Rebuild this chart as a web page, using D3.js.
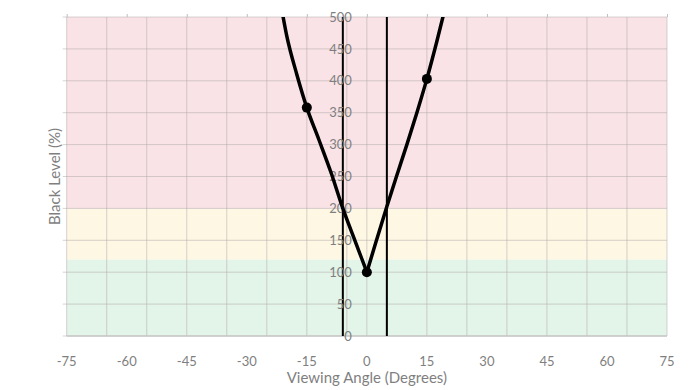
<!DOCTYPE html>
<html>
<head>
<meta charset="utf-8">
<script src="https://cdn.jsdelivr.net/npm/d3@7"></script>
<style>
  body { margin: 0; background: #fff; }
  text { font-family: Lato, "Open Sans", sans-serif; fill: #7f7f7f; }
</style>
</head>
<body>
<div id="chart"></div>
<script>
var leftAngles = [-21.5, -20, -17.5, -15, -12, -9, -6, -3, 0];
var leftValues = [520, 470, 410, 358, 308, 257, 200, 150, 100];
var rightAngles = [0, 2.5, 5, 7.5, 10, 12.5, 15, 17.5, 20];
var rightValues = [100, 152, 203, 252, 300, 350, 403, 462, 525];

// marked points
var markAngles = [-15, 0, 15];
var markValues = [358, 100, 403];

// angles where the curve crosses 200 %
var limitAngles = [-6, 5];

// coloured bands [from, to]
var bandFrom = [0, 120, 200];
var bandTo = [120, 200, 500];
var bandColors = ["#e3f4e9", "#fef7e4", "#f9e3e6"];

var xTicks = [-75, -60, -45, -30, -15, 0, 15, 30, 45, 60, 75];
var xGrid = d3.range(-75, 76, 10);
var yTicks = d3.range(0, 501, 50);

var width = 693, height = 390;
var margin = {top: 17, right: 26, bottom: 54, left: 66.7};

var svg = d3.select("#chart")
    .append("svg")
    .attr("width", width)
    .attr("height", height);

var x = d3.scaleLinear()
    .domain([-75, 75])
    .range([margin.left, width - margin.right]);

var y = d3.scaleLinear()
    .domain([0, 500])
    .range([height - margin.bottom, margin.top]);

// bands
svg.selectAll("rect.band")
    .data(bandFrom)
    .enter()
    .append("rect")
    .attr("class", "band")
    .attr("x", x(-75))
    .attr("width", x(75) - x(-75))
    .attr("y", (d, i) => y(bandTo[i]))
    .attr("height", (d, i) => y(d) - y(bandTo[i]))
    .style("fill", (d, i) => bandColors[i]);

// grid
svg.selectAll("line.vgrid")
    .data(xGrid.concat([0]))
    .enter()
    .append("line")
    .attr("class", "vgrid")
    .attr("x1", d => x(d)).attr("x2", d => x(d))
    .attr("y1", y(0)).attr("y2", y(500))
    .style("stroke", "#b0a8a8").style("stroke-opacity", 0.5).style("stroke-width", 1);

svg.selectAll("line.hgrid")
    .data(yTicks)
    .enter()
    .append("line")
    .attr("class", "hgrid")
    .attr("x1", x(-75) - 4).attr("x2", x(75))
    .attr("y1", d => y(d)).attr("y2", d => y(d))
    .style("stroke", "#b0a8a8").style("stroke-opacity", 0.5).style("stroke-width", 1);

// top axis with tick marks pointing up
var topAxis = svg.append("g")
    .attr("transform", "translate(0," + y(500) + ")")
    .call(d3.axisTop(x).tickValues(xTicks).tickSize(3).tickFormat(""));
topAxis.select(".domain").remove();
topAxis.selectAll("line").style("stroke", "#bfbfbf");

// bottom line
svg.append("line")
    .attr("x1", x(-75)).attr("x2", x(75))
    .attr("y1", y(0)).attr("y2", y(0))
    .style("stroke", "#c8c8c8").style("stroke-width", 1.5);

// x labels
svg.selectAll("text.xl")
    .data(xTicks)
    .enter()
    .append("text")
    .attr("class", "xl")
    .attr("x", d => x(d))
    .attr("y", y(0) + 25)
    .attr("text-anchor", "middle")
    .attr("dominant-baseline", "central")
    .style("font-size", "13px")
    .text(d => d);

// limit lines
svg.selectAll("line.limit")
    .data(limitAngles)
    .enter()
    .append("line")
    .attr("class", "limit")
    .attr("x1", d => x(d)).attr("x2", d => x(d))
    .attr("y1", y(0)).attr("y2", y(500))
    .style("stroke", "#000").style("stroke-width", 2);

// y labels at x = 0
var yAxis = svg.append("g")
    .attr("transform", "translate(" + x(0) + ",0)")
    .call(d3.axisLeft(y).tickValues(yTicks).tickSize(0).tickPadding(15));
yAxis.select(".domain").remove();
yAxis.selectAll("text")
    .style("font-family", "Lato, 'Open Sans', sans-serif")
    .style("font-size", "13px")
    .style("fill", "#7f7f7f");

// curve
svg.append("clipPath").attr("id", "plot")
    .append("rect")
    .attr("x", x(-75)).attr("y", y(500))
    .attr("width", x(75) - x(-75)).attr("height", y(0) - y(500));

var line = d3.line()
    .x(d => x(d[0]))
    .y(d => y(d[1]))
    .curve(d3.curveMonotoneX);

[[leftAngles, leftValues], [rightAngles, rightValues]].forEach(function(s) {
    svg.append("path")
        .datum(s[0].map((a, i) => [a, s[1][i]]))
        .attr("clip-path", "url(#plot)")
        .attr("d", line)
        .style("fill", "none")
        .style("stroke", "#000")
        .style("stroke-width", 3.5);
});

svg.selectAll("circle")
    .data(markAngles)
    .enter()
    .append("circle")
    .attr("cx", d => x(d))
    .attr("cy", (d, i) => y(markValues[i]))
    .attr("r", 5)
    .style("fill", "#000");

// titles
svg.append("text")
    .attr("x", x(0))
    .attr("y", 377)
    .attr("text-anchor", "middle")
    .attr("dominant-baseline", "central")
    .style("font-size", "15px")
    .text("Viewing Angle (Degrees)");

svg.append("text")
    .attr("transform", "translate(54," + (y(250)) + ") rotate(-90)")
    .attr("text-anchor", "middle")
    .attr("dominant-baseline", "central")
    .style("font-size", "15px")
    .text("Black Level (%)");
</script>
</body>
</html>
